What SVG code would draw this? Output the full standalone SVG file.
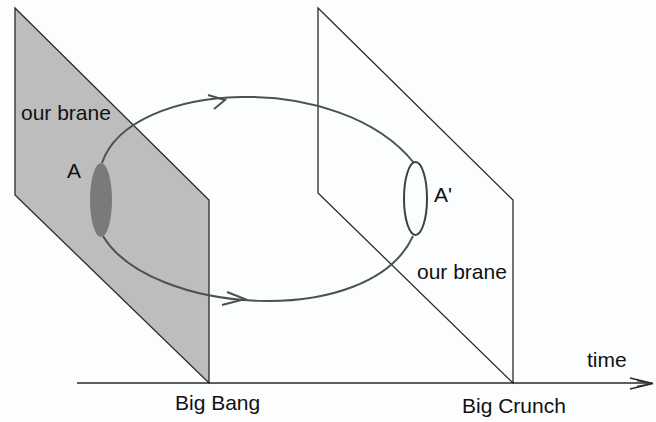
<svg xmlns="http://www.w3.org/2000/svg" width="656" height="422" viewBox="0 0 656 422">
<style>
.edge{fill:none;stroke:#2a2a2a;stroke-width:1.3}
.curve{fill:none;stroke:#4a5252;stroke-width:2}
.lbl{font-family:"Liberation Sans",Arial,sans-serif;font-size:21px;fill:#111}
</style>
<rect width="656" height="422" fill="#fcfdfe"/>
<g id="brane-left">
<polygon points="15,8 209,200 209,383 15,195" fill="#bdbdbd" stroke="#2a2a2a" stroke-width="1.3"/>
</g>
<g id="brane-right">
<polygon points="318,8 513,200 513,383 318,193" fill="none" stroke="#2a2a2a" stroke-width="1.3"/>
</g>
<g id="axis">
<line class="edge" x1="77" y1="383" x2="652" y2="383"/>
<path class="edge" d="M630,378 L653,383.5 L630,389 M637,380.5 L653,383.5 L637,386.5" stroke-width="1.6"/>
</g>
<g id="connectors">
<path class="curve" d="M102,163 C130,80 340,70 414,163"/>
<path class="curve" d="M103,236 C150,315 370,330 413,236"/>
<path class="curve" d="M208,95 L225,100 L214,109"/>
<path class="curve" d="M227,292 L245,299 L222,305"/>
</g>
<g id="node-A">
<ellipse cx="101" cy="200" rx="11" ry="37" fill="#7a7a7a"/>
</g>
<g id="node-A-prime">
<ellipse cx="415.5" cy="198.5" rx="11.5" ry="36.5" fill="none" stroke="#3a4242" stroke-width="2"/>
</g>
<g id="labels">
<text class="lbl" x="21" y="120">our brane</text>
<text class="lbl" x="67" y="178">A</text>
<text class="lbl" x="434" y="202">A'</text>
<text class="lbl" x="417" y="279">our brane</text>
<text class="lbl" x="175" y="410">Big Bang</text>
<text class="lbl" x="462" y="413">Big Crunch</text>
<text class="lbl" x="587" y="367">time</text>
</g>
</svg>
